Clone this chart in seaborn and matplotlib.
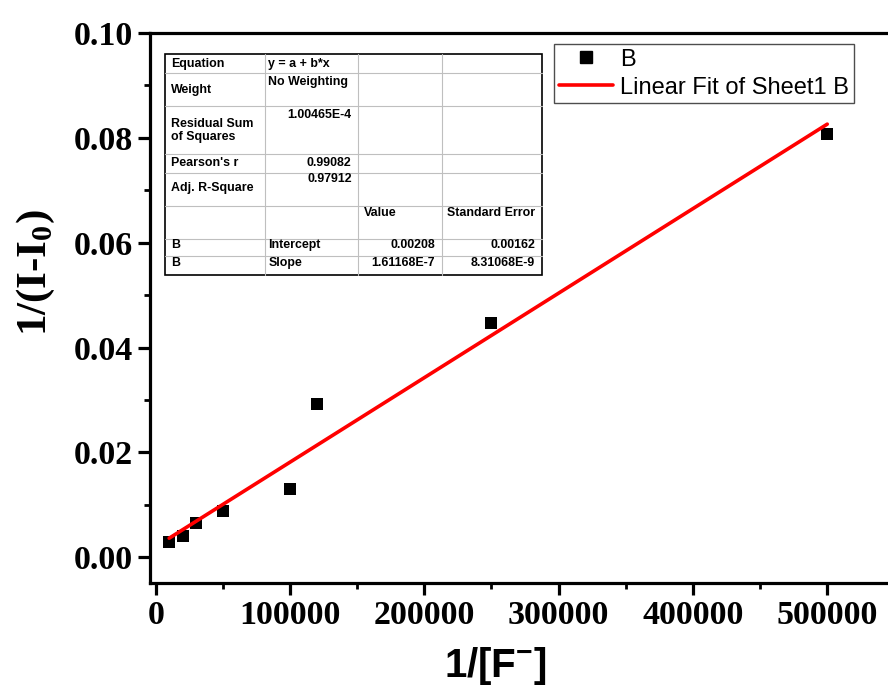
import numpy as np
import pandas as pd
import matplotlib
matplotlib.use("Agg")
import matplotlib.pyplot as plt
import seaborn as sns
from matplotlib.lines import Line2D
from matplotlib.ticker import MultipleLocator, FuncFormatter

# data
inv_f = [10000, 20000, 30000, 50000, 100000, 120000, 250000, 500000]
inv_i = [0.00300, 0.00415, 0.00655, 0.00890, 0.0130, 0.0293, 0.0446, 0.0808]

# fit report (Origin style table)
tbl_labels = ["Equation", "Weight", "Residual Sum\nof Squares", "Pearson's r", "Adj. R-Square"]
tbl_values = ["y = a + b*x", "No Weighting", "1.00465E-4", "0.99082", "0.97912"]
par_header = ["Value", "Standard Error"]
par_rows = [["B", "Intercept", "0.00208", "0.00162"],
            ["B", "Slope", "1.61168E-7", "8.31068E-9"]]

sns.set_style("ticks")
plt.rcParams["font.family"] = ["Liberation Serif", "DejaVu Serif"]
plt.rcParams["mathtext.fontset"] = "custom"
plt.rcParams["mathtext.rm"] = "Liberation Serif:bold"
plt.rcParams["mathtext.sf"] = "Liberation Sans:bold"
for k in ["text.color", "axes.labelcolor", "xtick.color", "ytick.color", "axes.edgecolor"]:
    plt.rcParams[k] = "black"

W, H = 888, 691
fig = plt.figure(figsize=(W / 100, H / 100), dpi=100)
ax = fig.add_axes([150 / W, 1 - 583 / H, 744.4 / W, 550 / H])

df = pd.DataFrame({"x": inv_f, "y": inv_i})
sns.scatterplot(data=df, x="x", y="y", marker="s", s=70, color="black",
                edgecolor="black", linewidth=0, ax=ax, zorder=3, legend=False)
sns.regplot(data=df, x="x", y="y", scatter=False, ci=None, ax=ax,
            line_kws=dict(color="red", lw=2.6, zorder=4))

ax.set_xlim(-4250, 550000)
ax.set_ylim(-0.0049, 0.10)
ax.xaxis.set_major_locator(MultipleLocator(100000))
ax.xaxis.set_minor_locator(MultipleLocator(50000))
ax.yaxis.set_major_locator(MultipleLocator(0.02))
ax.yaxis.set_minor_locator(MultipleLocator(0.01))
ax.xaxis.set_major_formatter(FuncFormatter(lambda v, p: f"{v:.0f}"))
ax.yaxis.set_major_formatter(FuncFormatter(lambda v, p: f"{v:.2f}"))

for s in ax.spines.values():
    s.set_linewidth(2.3)
    s.set_color("black")
ax.tick_params(which="major", direction="out", length=8.5, width=2.3,
               labelsize=24.5, pad=4, color="black", labelcolor="black")
ax.tick_params(which="minor", direction="out", length=4.5, width=2.0, color="black")
for lab in ax.get_xticklabels() + ax.get_yticklabels():
    lab.set_fontweight("bold")

ax.set_xlabel("1/[F$^{\\mathsf{-}}$]", fontsize=29, fontweight="bold",
              family=["Liberation Sans", "DejaVu Sans"])
ax.xaxis.set_label_coords((495 - 150) / 744.4, -(645 - 583) / 550, transform=ax.transAxes)
ax.xaxis.label.set_va("top")
ax.set_ylabel("1/(I-I$_{\\mathrm{0}}$)", fontsize=31, fontweight="bold")
ax.yaxis.set_label_coords(-(150 - 15) / 744.4, (583 - 273) / 550, transform=ax.transAxes)
ax.yaxis.label.set_va("top")

# legend
handles = [Line2D([], [], ls="none", marker="s", color="black", markersize=8),
           Line2D([], [], color="red", lw=2.6)]
leg = ax.legend(handles, ["B", "Linear Fit of Sheet1 B"],
                loc="upper left", bbox_to_anchor=(554 / W, 1 - 44 / H),
                bbox_transform=fig.transFigure, borderaxespad=0,
                prop={"family": "Liberation Sans", "size": 17},
                frameon=True, fancybox=False, framealpha=1, edgecolor="0.3",
                handlelength=2.3, handletextpad=0.3, labelspacing=0.25,
                borderpad=0.2)
leg.get_frame().set_linewidth(1.0)


# fit table drawn in pixel coordinates
def fx(x):
    return x / W


def fy(y):
    return 1 - y / H


tfont = dict(family="Liberation Sans", fontweight="bold", fontsize=8.9, color="black")
col_x = [165, 265, 358, 442, 541.7]
row_y = [54, 73.3, 105.7, 154.3, 172.7, 205.7, 239, 256, 275]
for y in row_y[1:-1]:
    fig.add_artist(Line2D([fx(col_x[0]), fx(col_x[-1])], [fy(y), fy(y)],
                          color="0.75", lw=0.8))
for x in col_x[1:-1]:
    fig.add_artist(Line2D([fx(x), fx(x)], [fy(row_y[0]), fy(row_y[-1])],
                          color="0.75", lw=0.8))
fig.add_artist(plt.Rectangle((fx(col_x[0]), fy(row_y[-1])),
                             fx(col_x[-1]) - fx(col_x[0]),
                             fy(row_y[0]) - fy(row_y[-1]),
                             fill=False, edgecolor="black", lw=1.2))

lab_y = [64, 90, 130.3, 162.7, 188.3]
val_y = [64, 81.7, 115, 162.7, 179.3]
for i, (lab, val) in enumerate(zip(tbl_labels, tbl_values)):
    fig.text(fx(170.7), fy(lab_y[i]), lab, va="center", ha="left",
             linespacing=1.15, **tfont)
    if i < 2:
        fig.text(fx(268.3), fy(val_y[i]), val, va="center", ha="left", **tfont)
    else:
        fig.text(fx(351.7), fy(val_y[i]), val, va="center", ha="right", **tfont)

fig.text(fx(364), fy(212.7), par_header[0], va="center", ha="left", **tfont)
fig.text(fx(447.3), fy(212.7), par_header[1], va="center", ha="left", **tfont)
for row, y in zip(par_rows, [245, 262.7]):
    fig.text(fx(170.7), fy(y), row[0], va="center", ha="left", **tfont)
    fig.text(fx(268.3), fy(y), row[1], va="center", ha="left", **tfont)
    fig.text(fx(435), fy(y), row[2], va="center", ha="right", **tfont)
    fig.text(fx(535), fy(y), row[3], va="center", ha="right", **tfont)

fig.savefig("out.png", dpi=100)
